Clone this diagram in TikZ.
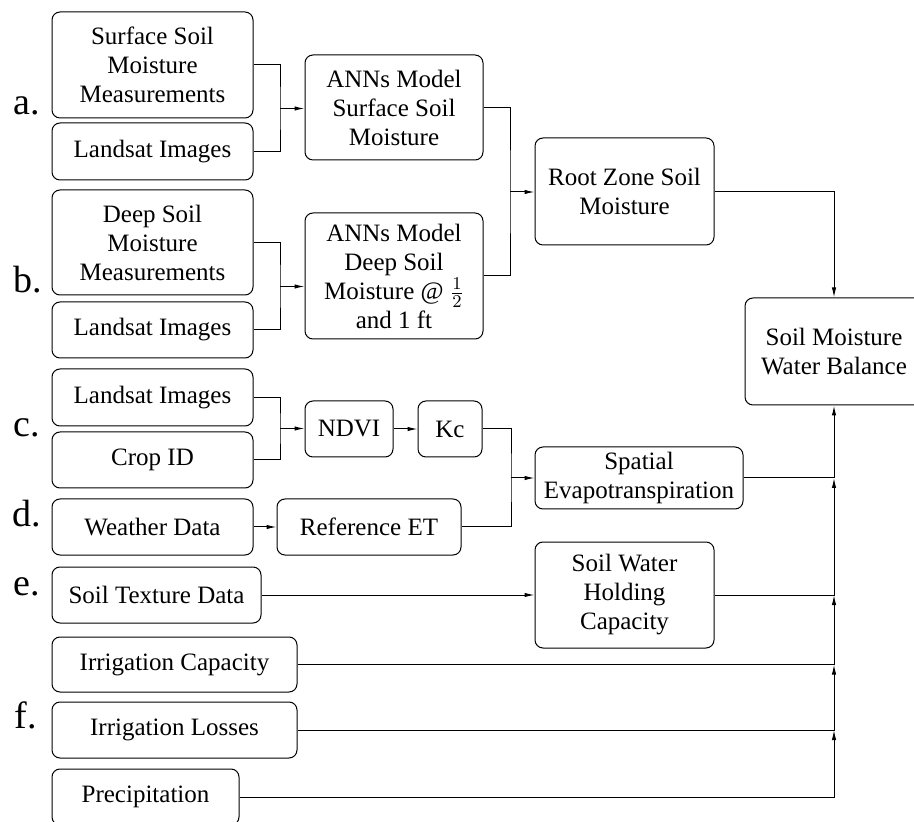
\documentclass[tikz,border=0pt]{standalone}
\usepackage{fontspec}
\setmainfont{Liberation Serif}
\usepackage{tikz}
\usetikzlibrary{arrows.meta}

\begin{document}
\begin{tikzpicture}[x=0.5pt,y=-0.5pt,line width=0.5pt,
		blk/.style={draw,rounded corners=4pt,align=center,inner sep=1pt,
			font=\fontsize{12.5}{14.5}\selectfont},
		lbl/.style={anchor=base,inner sep=0pt,font=\fontsize{19}{22}\selectfont},
		arr/.style={-{Latex[length=5pt,width=2.2pt]}}]
		\useasboundingbox (0,0) rectangle (914,822);
		% letters on the left
		\node[lbl] (la) at (27,115) {a.};
		\node[lbl] (lb) at (28,293) {b.};
		\node[lbl] (lc) at (27,437) {c.};
		\node[lbl] (ld) at (27,526) {d.};
		\node[lbl] (le) at (27,595) {e.};
		\node[lbl] (lf) at (26,728) {f.};
		% a. surface soil moisture
		\node[blk,minimum width=100.5pt,minimum height=53pt] (ssm) at (152.5,65) {Surface Soil\\Moisture\\Measurements};
		\node[blk,minimum width=100.5pt,minimum height=28.5pt] (lia) at (152.5,151.5) {Landsat Images};
		\node[blk,minimum width=89pt,minimum height=52.5pt] (anns) at (394,107.5) {ANNs Model\\Surface Soil\\Moisture};
		% b. deep soil moisture
		\node[blk,minimum width=100.5pt,minimum height=52.5pt] (dsm) at (152.5,242.5) {Deep Soil\\Moisture\\Measurements};
		\node[blk,minimum width=100.5pt,minimum height=28pt] (lib) at (152.5,330) {Landsat Images};
		\node[blk,minimum width=89pt,minimum height=63pt] (annd) at (394,276) {ANNs Model\\Deep Soil\\Moisture @ $\frac{1}{2}$\\and 1 ft};
		\node[blk,minimum width=89.5pt,minimum height=53.5pt] (root) at (624.5,191.5) {Root Zone Soil\\Moisture};
		\node[blk,minimum width=89pt,minimum height=53.5pt] (smwb) at (834,351.5) {Soil Moisture\\Water Balance};
		% c. and d. evapotranspiration
		\node[blk,minimum width=100.5pt,minimum height=28.5pt] (lic) at (152.5,397.5) {Landsat Images};
		\node[blk,minimum width=100.5pt,minimum height=28pt] (crop) at (152.5,460) {Crop ID};
		\node[blk,minimum width=44pt,minimum height=28pt] (ndvi) at (349,429) {NDVI};
		\node[blk,minimum width=32pt,minimum height=28pt] (kc) at (450,429) {Kc};
		\node[blk,minimum width=100.5pt,minimum height=28pt] (wth) at (152.5,527) {Weather Data};
		\node[blk,minimum width=92pt,minimum height=28pt] (ref) at (369,527) {Reference ET};
		\node[blk,minimum width=104pt,minimum height=31pt] (spat) at (639,478) {Spatial\\Evapotranspiration};
		% e. and f.
		\node[blk,minimum width=104.5pt,minimum height=28pt] (tex) at (156.5,595) {Soil Texture Data};
		\node[blk,minimum width=89.5pt,minimum height=53pt] (swhc) at (624.5,595) {Soil Water\\Holding\\Capacity};
		\node[blk,minimum width=122.5pt,minimum height=27.5pt] (cap) at (174.5,664.5) {Irrigation Capacity};
		\node[blk,minimum width=122.5pt,minimum height=28pt] (loss) at (174.5,730) {Irrigation Losses};
		\node[blk,minimum width=93.5pt,minimum height=28pt] (prec) at (145.5,797) {Precipitation};
		% connectors
		\coordinate (ja) at (280,108.5);
		\coordinate (jb) at (280,286.5);
		\coordinate (jc) at (280,428.5);
		\coordinate (jr) at (510,192);
		\coordinate (je) at (511,478);
		\draw (ssm.east) -| (ja) |- (lia.east);
		\draw[arr] (ja) -- (ja -| anns.west);
		\draw (dsm.east) -| (jb) |- (lib.east);
		\draw[arr] (jb) -- (jb -| annd.west);
		\draw (anns.east) -| (jr) |- (annd.east);
		\draw[arr] (jr) -- (jr -| root.west);
		\draw[arr] (root.east) -| (smwb.north);
		\draw (lic.east) -| (jc) |- (crop.east);
		\draw[arr] (jc) -- (jc -| ndvi.west);
		\draw[arr] (ndvi) -- (kc);
		\draw[arr] (wth) -- (ref);
		\draw (kc.east) -| (je) |- (ref.east);
		\draw[arr] (je) -- (je -| spat.west);
		\draw[arr] (tex) -- (swhc);
		% trunk into the water balance
		\draw[arr] (prec.east) -| (smwb.south |- loss.east);
		\draw[arr] (loss.east) -| (smwb.south |- cap.east);
		\draw[arr] (cap.east) -| (smwb.south |- swhc.east);
		\draw[arr] (swhc.east) -| (smwb.south |- spat.east);
		\draw[arr] (spat.east) -| (smwb.south);
\end{tikzpicture}
\end{document}
